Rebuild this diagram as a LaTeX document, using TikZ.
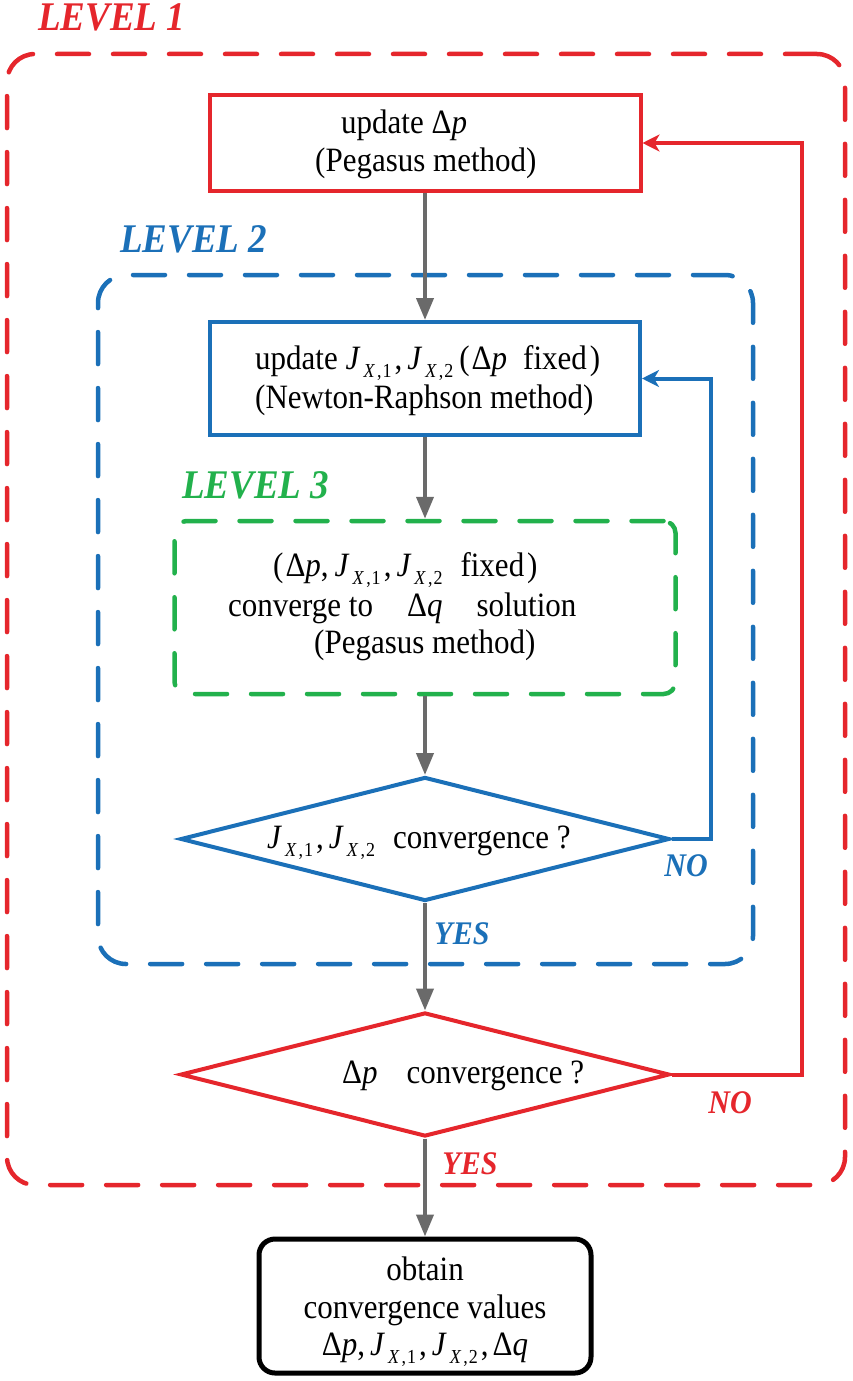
\documentclass[tikz,border=0pt]{standalone}
\usepackage{fontspec}
\setmainfont{Liberation Serif}
\usetikzlibrary{arrows.meta,shapes.geometric}
\definecolor{cred}{HTML}{E5262C}
\definecolor{cblue}{HTML}{1B70B8}
\definecolor{cgreen}{HTML}{22B14C}
\definecolor{cgray}{HTML}{6A6A6A}
\newcommand{\Jsub}[1]{\textit{J}\kern3pt\raisebox{-7.5pt}[0pt][0pt]{\fontsize{18}{18}\selectfont\textit{X}\kern2pt,\kern1pt#1}}
\newcommand{\JJ}{\Jsub{1}\kern3pt,\kern5pt\Jsub{2}}
\newcommand{\TT}[1]{\scalebox{1}[1.1]{#1}}
\begin{document}
\begin{tikzpicture}[x=1pt,y=-1pt,
  txt/.style={font=\fontsize{31}{38}\selectfont, inner sep=0pt, anchor=base west},
  ctxt/.style={font=\fontsize{31}{38}\selectfont, inner sep=0pt, anchor=base},
  lvl/.style={font=\fontsize{37}{40}\selectfont\bfseries\itshape, inner sep=0pt, anchor=base west},
  yn/.style={font=\fontsize{30}{32}\selectfont\bfseries\itshape, inner sep=0pt},
  procbox/.style={draw, line width=4pt, inner sep=0pt},
  grp/.style={draw, line width=4.5pt, dash pattern=on 32pt off 24pt, line cap=round, inner sep=0pt},
  dec/.style={diamond, draw, line width=4pt, inner sep=0pt},
  garrow/.style={draw=cgray, line width=4pt, -{Triangle[length=22pt,width=17pt]}},
  fb/.style={line width=4pt, -{Stealth[length=17pt,width=17pt,inset=5pt]}},
]
\useasboundingbox (0,0) rectangle (852,1381);

% group frames
\node[grp, draw=cred, rounded corners=28pt, minimum width=838pt, minimum height=1131pt] (L1) at (426,619.5) {};
\node[grp, draw=cblue, rounded corners=28pt, minimum width=655pt, minimum height=689pt] (L2) at (425.5,619.5) {};
\node[grp, draw=cgreen, rounded corners=12pt, minimum width=501pt, minimum height=173pt] (l3) at (425,607.5) {};

% level labels
\node[lvl, text=cred] (lv1) at (38,31) {\TT{LEVEL 1}};
\node[lvl, text=cblue] (lv2) at (120,252) {\TT{LEVEL 2}};
\node[lvl, text=cgreen] (lv3) at (182,498) {\TT{LEVEL 3}};

% process boxes
\node[procbox, draw=cred, minimum width=431pt, minimum height=96pt] (upd) at (425,143) {};
\node[procbox, draw=cblue, minimum width=430pt, minimum height=113pt] (nr) at (425,378.5) {};
\node[dec, draw=cblue, minimum width=489pt, minimum height=124pt] (d1) at (425,839) {};
\node[dec, draw=cred, minimum width=489pt, minimum height=124pt] (d2) at (425,1074.5) {};
\node[procbox, draw=black, line width=5pt, rounded corners=16pt, minimum width=332pt, minimum height=134pt] (out) at (425,1306) {};

% texts
\node[txt] (t1a) at (341,133) {\TT{update Δ\textit{p}}};
\node[txt] (t1b) at (315,171) {\TT{(Pegasus method)}};
\node[txt] (t2a) at (255,369) {\TT{update \JJ\kern6pt(\kern2ptΔ\textit{p}\hspace{16pt}fixed\kern3pt)}};
\node[txt] (t2b) at (255,408) {\TT{(Newton-Raphson method)}};
\node[txt] (t3a) at (273,576) {\TT{(\kern2ptΔ\textit{p},\kern6pt\JJ\hspace{18pt}fixed\kern3pt)}};
\node[txt] (t3b) at (228,616) {\TT{converge to\hspace{34pt}Δ\textit{q}\hspace{34pt}solution}};
\node[txt] (t3c) at (314,653) {\TT{(Pegasus method)}};
\node[txt] (t4) at (267,848) {\TT{\JJ\hspace{18pt}convergence ?}};
\node[txt] (t5) at (342,1083) {\TT{Δ\textit{p}\hspace{29pt}convergence ?}};
\node[ctxt] (t6a) at (425,1280) {\TT{obtain}};
\node[ctxt] (t6b) at (425,1318) {\TT{convergence values}};
\node[ctxt] (t6c) at (425,1355) {\TT{Δ\textit{p},\kern5pt\JJ\kern3pt,\kern4ptΔ\textit{q}}};

% yes / no labels
\node[yn, text=cblue] (no1) at (686,866) {\TT{NO}};
\node[yn, text=cblue] (yes1) at (462,934) {\TT{YES}};
\node[yn, text=cred] (no2) at (730,1103) {\TT{NO}};
\node[yn, text=cred] (yes2) at (470,1164) {\TT{YES}};

% main flow
\draw[garrow] (upd) -- (nr);
\draw[garrow] (nr) -- (l3);
\draw[garrow] (l3) -- (d1);
\draw[garrow] (d1) -- (d2);
\draw[garrow] (d2) -- (out);

% feedback loops
\coordinate (c1) at (711,839);
\coordinate (c2) at (802,1074.5);
\draw[fb, cblue] (d1.east) -- (c1) |- (nr.east);
\draw[fb, cred] (d2.east) -- (c2) |- (upd.east);
\end{tikzpicture}
\end{document}
